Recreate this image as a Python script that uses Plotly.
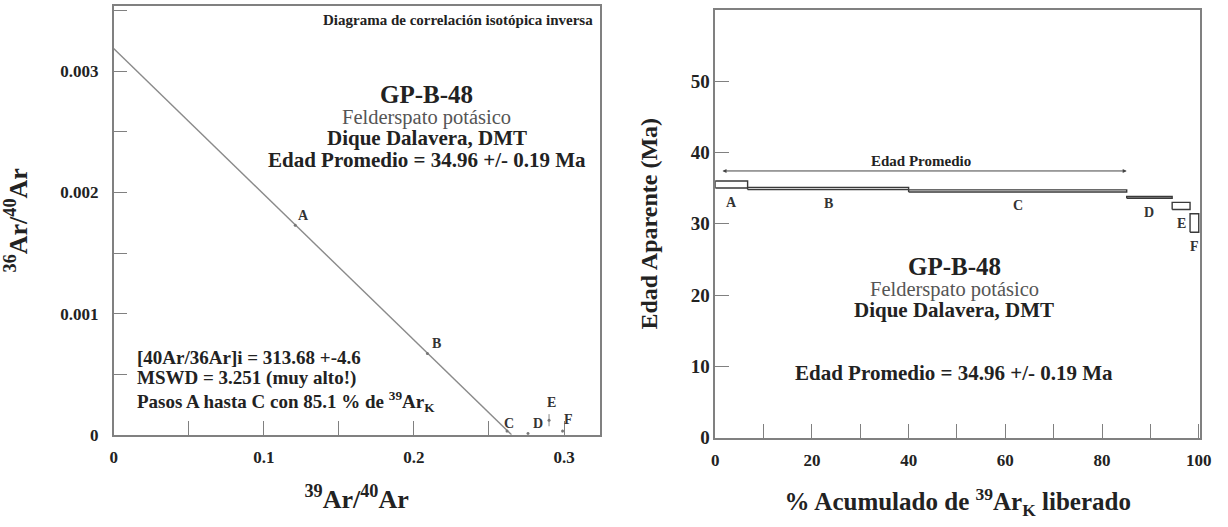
import plotly.graph_objects as go

# ---- Inverse isochron (36Ar/40Ar vs 39Ar/40Ar) ----
steps = ["A", "B", "C", "D", "E", "F"]
ar39_ar40 = [0.121, 0.209, 0.262, 0.276, 0.290, 0.299]
ar36_ar40 = [0.00173, 0.00067, 0.00003, 0.00001, 0.00012, 0.00003]
ar36_err = [0.00001, 0.00001, 0.00001, 0.00001, 0.00005, 0.00001]
trapped_ratio = 313.68          # (40Ar/36Ar)i
x_intercept = 0.265             # 39Ar/40Ar at 36Ar/40Ar = 0

# ---- Age spectrum ----
cum_ar39 = [6.7, 40.0, 85.1, 94.5, 98.2, 100.0]
apparent_age = [35.5, 34.95, 34.6, 33.7, 32.5, 30.1]
age_err = [0.5, 0.15, 0.15, 0.12, 0.5, 1.3]
plateau_steps = 3               # A..C
plateau_arrow_age = 37.4

iso_xticks = [0, 0.1, 0.2, 0.3]
iso_yticks = [0, 0.001, 0.002, 0.003]
spec_xticks = [0, 20, 40, 60, 80, 100]
spec_yticks = [0, 10, 20, 30, 40, 50]

SERIF = "Liberation Serif, Times New Roman, DejaVu Serif, serif"
INK = "#222222"
AXIS = "#808080"

fig = go.Figure()

# regression line
y0 = 1.0 / trapped_ratio
fig.add_trace(go.Scatter(
    x=[0, x_intercept], y=[y0, 0], mode="lines",
    line=dict(color="#8a8a8a", width=1.4), xaxis="x", yaxis="y",
    hoverinfo="skip", showlegend=False))

# step points
fig.add_trace(go.Scatter(
    x=ar39_ar40, y=ar36_ar40, mode="markers",
    marker=dict(size=3, color="#777777"),
    error_y=dict(type="data", array=ar36_err, color="#888888", width=0, thickness=1),
    xaxis="x", yaxis="y", showlegend=False))

iso_label_shift = {"A": (8, 10), "B": (9, 10), "C": (2, 8), "D": (10, 10), "E": (2, 18), "F": (6, 12)}
for s, x, y in zip(steps, ar39_ar40, ar36_ar40):
    dx, dy = iso_label_shift[s]
    fig.add_annotation(x=x, y=y, xref="x", yref="y", text=f"<b>{s}</b>", showarrow=False,
                       xshift=dx, yshift=dy, font=dict(family=SERIF, size=14, color="#333"))

# spectrum boxes
left = 0.0
for s, right, age, err in zip(steps, cum_ar39, apparent_age, age_err):
    fig.add_trace(go.Scatter(
        x=[left, right, right, left, left],
        y=[age - err, age - err, age + err, age + err, age - err],
        mode="lines", fill="toself", fillcolor="white",
        line=dict(color="#3a3a3a", width=1.4),
        xaxis="x2", yaxis="y2", hoverinfo="skip", showlegend=False))
    fig.add_annotation(x=(left + right) / 2, y=age - err, xref="x2", yref="y2",
                       text=f"<b>{s}</b>", showarrow=False, yshift=-14,
                       font=dict(family=SERIF, size=14, color="#333"))
    left = right

# plateau arrow
plateau_end = cum_ar39[plateau_steps - 1]
fig.add_annotation(x=plateau_end, y=plateau_arrow_age, ax=1.2, ay=plateau_arrow_age,
                   xref="x2", yref="y2", axref="x2", ayref="y2", text="",
                   showarrow=True, arrowhead=2, arrowside="end+start", arrowsize=0.8,
                   arrowwidth=1, arrowcolor="#444")
fig.add_annotation(x=plateau_end / 2, y=plateau_arrow_age, xref="x2", yref="y2",
                   text="<b>Edad Promedio</b>", showarrow=False, yshift=10,
                   font=dict(family=SERIF, size=15, color=INK))


def txt(x, y, text, size, color=INK, xanchor="center", xref="paper", yref="paper"):
    fig.add_annotation(x=x, y=y, xref=xref, yref=yref, text=text, showarrow=False,
                       xanchor=xanchor, yanchor="middle",
                       font=dict(family=SERIF, size=size, color=color))


# left panel texts (paper coords)
txt(598 / 1228, 1 - 20 / 527, "<b>Diagrama de correlación isotópica inversa</b>", 15, xanchor="right")
txt(428 / 1228, 1 - 97 / 527, "<b>GP-B-48</b>", 25)
txt(428 / 1228, 1 - 120 / 527, "Felderspato potásico", 20.5, color="#555555")
txt(428 / 1228, 1 - 141 / 527, "<b>Dique Dalavera, DMT</b>", 21)
txt(428 / 1228, 1 - 163 / 527, "<b>Edad Promedio = 34.96 +/- 0.19 Ma</b>", 21)
txt(133 / 1228, 1 - 365 / 527, "<b>[40Ar/36Ar]i = 313.68 +-4.6</b>", 19, xanchor="left")
txt(133 / 1228, 1 - 386 / 527, "<b>MSWD = 3.251 (muy alto!)</b>", 19, xanchor="left")
txt(133 / 1228, 1 - 410 / 527,
    "<b>Pasos A hasta C con 85.1 % de <sup>39</sup>Ar<sub>K</sub></b>", 19, xanchor="left")

# right panel texts
txt(962 / 1228, 1 - 272 / 527, "<b>GP-B-48</b>", 25)
txt(962 / 1228, 1 - 296 / 527, "Felderspato potásico", 20.5, color="#555555")
txt(962 / 1228, 1 - 317 / 527, "<b>Dique Dalavera, DMT</b>", 21)
txt(962 / 1228, 1 - 381 / 527, "<b>Edad Promedio = 34.96 +/- 0.19 Ma</b>", 21)

axis_common = dict(showline=True, linecolor=AXIS, linewidth=1.5, mirror=True,
                   showgrid=False, zeroline=False, ticks="inside", ticklen=14,
                   tickcolor=AXIS, tickwidth=1.2,
                   tickfont=dict(family=SERIF, size=17, color=INK))

fig.update_layout(
    width=1228, height=527, autosize=False,
    margin=dict(l=0, r=0, t=0, b=0),
    paper_bgcolor="white", plot_bgcolor="white",
    xaxis=dict(axis_common, domain=[111 / 1228, 603 / 1228], range=[0, 0.3237],
               tickvals=iso_xticks, ticktext=["<b>%g</b>" % v for v in iso_xticks],
               ticklabelstandoff=6,
               minor=dict(ticks="inside", ticklen=14, tickcolor=AXIS, dtick=0.05),
               title=dict(text="<b><sup>39</sup>Ar/<sup>40</sup>Ar</b>", standoff=24,
                          font=dict(family=SERIF, size=26, color=INK))),
    yaxis=dict(axis_common, domain=[1 - 444 / 527, 1 - 6 / 527], range=[0, 0.00354],
               tickvals=iso_yticks, ticktext=["<b>%g</b>" % v for v in iso_yticks],
               ticklabelstandoff=10,
               minor=dict(ticks="inside", ticklen=14, tickcolor=AXIS, dtick=0.0005),
               title=dict(text="<b><sup>36</sup>Ar/<sup>40</sup>Ar</b>", standoff=26,
                          font=dict(family=SERIF, size=26, color=INK))),
    xaxis2=dict(axis_common, domain=[720 / 1228, 1211 / 1228], range=[0, 100.3],
                anchor="y2", tickvals=spec_xticks,
                ticktext=["<b>%d</b>" % v for v in spec_xticks],
                ticklabelstandoff=6,
                minor=dict(ticks="inside", ticklen=14, tickcolor=AXIS, dtick=10),
                title=dict(text="<b>% Acumulado de <sup>39</sup>Ar<sub>K</sub> liberado</b>",
                           standoff=24, font=dict(family=SERIF, size=25, color=INK))),
    yaxis2=dict(axis_common, domain=[1 - 447 / 527, 1 - 10 / 527], range=[0, 60],
                anchor="x2", tickvals=spec_yticks,
                ticktext=["<b>%d</b>" % v for v in spec_yticks],
                tickfont=dict(family=SERIF, size=19, color=INK),
                title=dict(text="<b>Edad Aparente (Ma)</b>", standoff=26,
                           font=dict(family=SERIF, size=24, color=INK))),
)

fig.write_html("out.html")
